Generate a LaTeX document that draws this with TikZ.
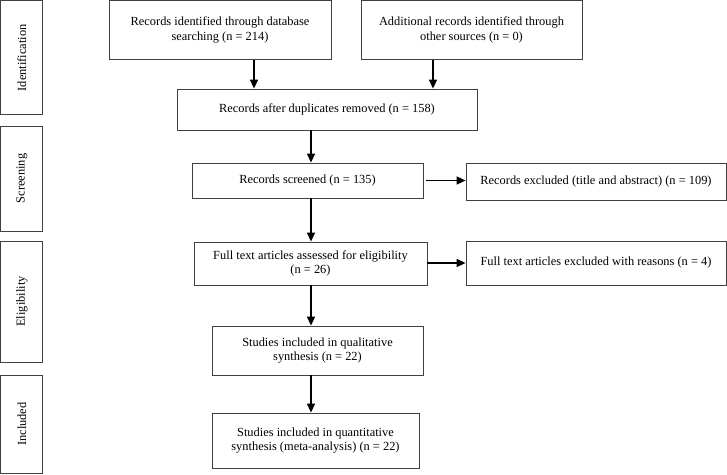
\documentclass[tikz,border=0pt]{standalone}
\usepackage{fontspec}
\setmainfont{Liberation Serif}
\usetikzlibrary{arrows.meta,calc}
\begin{document}
\begin{tikzpicture}[x=1pt,y=-1pt,
  box/.style={draw=black!75,line width=0.8pt,align=center,inner sep=0pt,
    font=\fontsize{12.4}{14.4}\selectfont},
  side/.style={box,rotate=90},
  arr/.style={line width=1.5pt,-{Triangle[width=8pt,length=9pt]}}]
\useasboundingbox (0,0) rectangle (727,474);
% side boxes
\node[side,minimum width=114pt,minimum height=42pt] (id) at (21.8,57.8) {Identification};
\node[side,minimum width=105pt,minimum height=42pt] (sc) at (21.8,178.5) {Screening};
\node[side,minimum width=121pt,minimum height=42pt] (el) at (21.8,301.5) {Eligibility};
\node[side,minimum width=98pt,minimum height=42pt] (in) at (21.8,424) {Included};
% main boxes
\node[box,minimum width=222pt,minimum height=59pt] (A) at (220,30) {Records identified through database\\searching (n = 214)};
\node[box,minimum width=221pt,minimum height=59pt] (B) at (471.5,30) {Additional records identified through\\other sources (n = 0)};
\node[box,minimum width=300pt,minimum height=41pt] (C) at (327,109.5) {Records after duplicates removed (n = 158)};
\node[box,minimum width=231pt,minimum height=35pt] (D) at (307.5,180.5) {Records screened (n = 135)};
\node[box,minimum width=260pt,minimum height=37pt] (E) at (596,181.5) {Records excluded (title and abstract) (n = 109)};
\node[box,minimum width=233pt,minimum height=43pt] (F) at (310.5,263.5) {Full text articles assessed for eligibility\\(n = 26)};
\node[box,minimum width=260pt,minimum height=44pt] (I) at (596,263) {Full text articles excluded with reasons (n = 4)};
\node[box,minimum width=211pt,minimum height=49pt] (G) at (317.5,350.5) {Studies included in qualitative\\synthesis (n = 22)};
\node[box,minimum width=207pt,minimum height=55pt] (H) at (315.5,440.5) {Studies included in quantitative\\synthesis (meta-analysis) (n = 22)};
% arrow columns
\coordinate (ax) at (254,0);
\coordinate (bx) at (433,0);
\coordinate (mx) at (311,0);
\draw[arr] (A.south -| ax) -- (C.north -| ax);
\draw[arr] (B.south -| bx) -- (C.north -| bx);
\draw[arr] (C.south -| mx) -- (D.north -| mx);
\draw[arr] (D.south -| mx) -- (F.north -| mx);
\draw[arr] (F.south -| mx) -- (G.north -| mx);
\draw[arr] (G.south -| mx) -- (H.north -| mx);
\draw[arr] ([xshift=3pt]D.east) -- (E.west |- D.east);
\draw[arr] (F.east |- I.west) -- (I.west);
\end{tikzpicture}
\end{document}
